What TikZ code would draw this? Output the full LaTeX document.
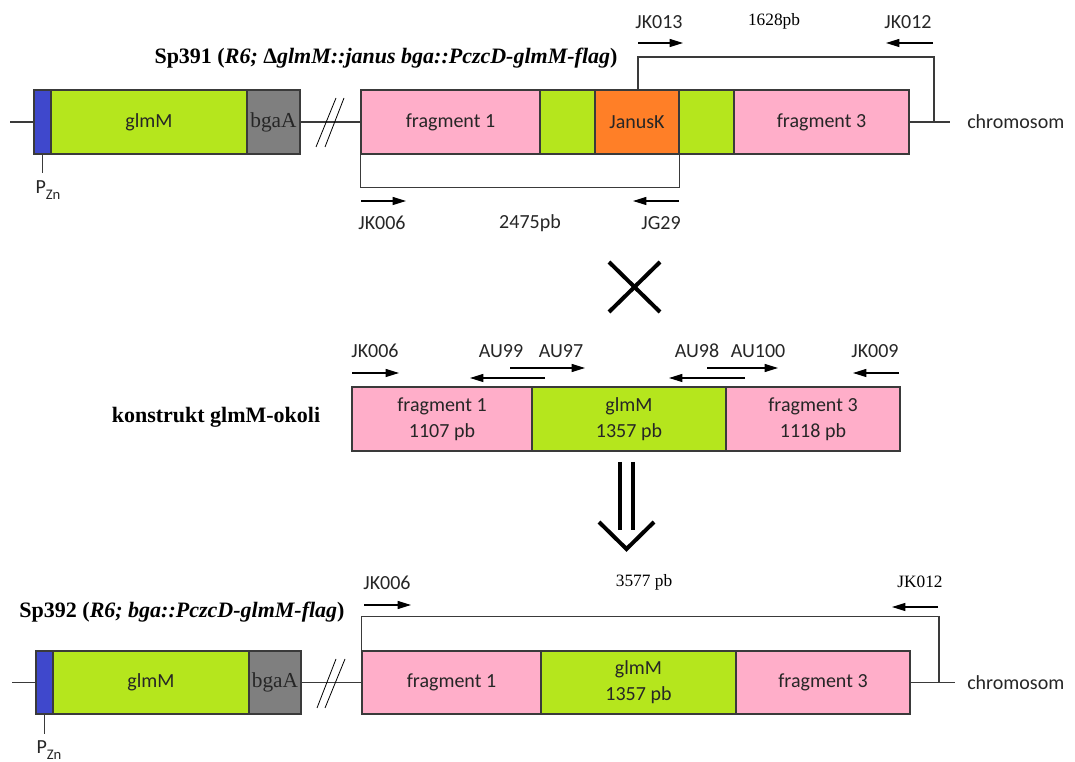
\documentclass[tikz,border=0pt]{standalone}
\usepackage{fontspec}
\setmainfont{Liberation Serif}
\newfontfamily\calfont{Carlito}
\usetikzlibrary{arrows.meta}
\definecolor{pzn}{HTML}{3F48CC}
\definecolor{lime}{HTML}{B5E61D}
\definecolor{pinkf}{HTML}{FFAEC9}
\definecolor{grayb}{HTML}{7F7F7F}
\definecolor{orng}{HTML}{FF7F27}
\definecolor{edge}{HTML}{3A3A3A}
\begin{document}
\begin{tikzpicture}[x=0.75pt,y=-0.75pt,
 box/.style={draw=edge, line width=0.9pt, inner sep=0pt, minimum height=48pt, font=\calfont\fontsize{15}{19.5}\selectfont, align=center, text=black!85},
 boxb/.style={box, minimum height=47.25pt},
 serbox/.style={font=\fontsize{16}{18}\selectfont},
 lab/.style={font=\calfont\fontsize{15}{18}\selectfont, inner sep=0pt, text=black!85},
 serlab/.style={font=\fontsize{13}{15}\selectfont, inner sep=0pt},
 title/.style={font=\bfseries\fontsize{16.5}{18}\selectfont, inner sep=0pt},
 conn/.style={draw=edge, line width=0.9pt},
 primer/.style={line width=0.9pt, -{Triangle[length=10pt,width=6pt]}},
 slash/.style={line width=0.6pt},
 bigline/.style={line width=3pt}
]
\useasboundingbox (0,0) rectangle (1075,762);

% ---------------- Row 1 ----------------
\node[title] (t1) at (386,58) {Sp391 (\textit{R6; \textup{Δ}glmM::janus bga::PczcD-glmM-flag})};
\node[box, fill=pzn, minimum width=12.75pt] (p1) at (42.5,122) {};
\node[box, fill=lime, minimum width=147pt] (g1) at (149,122) {glmM};
\node[box, serbox, fill=grayb, minimum width=39.75pt] (b1) at (273.5,122) {bgaA};
\node[box, fill=pinkf, minimum width=134.25pt] (f1) at (450.5,122) {fragment 1};
\node[box, fill=lime, minimum width=41.25pt] (m1) at (567.5,122) {};
\node[box, fill=orng, minimum width=63pt] (j1) at (637,122) {JanusK};
\node[box, fill=lime, minimum width=41.25pt] (n1) at (706.5,122) {};
\node[box, fill=pinkf, minimum width=131.25pt] (h1) at (821.5,122) {fragment 3};
\coordinate (L1) at (10,122);
\coordinate (R1) at (950,122);
\coordinate (Rb1) at (934,122);
\coordinate (u1) at (638,90);
\node[lab, anchor=west] (chr1) at (967,122) {chromosom};
\draw[conn] (L1) -- (p1.west);
\draw[conn] (b1.east) -- (f1.west);
\draw[conn] (h1.east) -- (R1);
\draw[slash] (316,147) -- (336,98);
\draw[slash] (325,147) -- (344,98);
\draw[conn] (u1) -- ++(0,-33) -| (Rb1);
\draw[conn] (f1.south west) -- ++(0,33) -| (j1.south east);
\draw[conn] (p1.south) -- ++(0,18);
\node[lab] (pz1) at (48,190) {P\raisebox{-4pt}{\fontsize{11}{11}\selectfont Zn}};

\node[lab] (k13) at (659,22) {JK013};
\draw[primer] (638,43) -- (683,43);
\node[serlab] (s1628) at (774,21) {1628pb};
\node[lab] (k12) at (908,22) {JK012};
\draw[primer] (933,43) -- (886,43);
\node[lab] (k06a) at (382,223) {JK006};
\draw[primer] (361,201) -- (406,201);
\node[lab] (s2475) at (530,223) {2475pb};
\node[lab] (g29) at (661,223) {JG29};
\draw[primer] (679,201) -- (633,201);

% X
\draw[bigline] (609,262) -- (660,312);
\draw[bigline] (660,262) -- (609,312);

% ---------------- Row 2 ----------------
\node[title, font=\bfseries\fontsize{16.5}{18}\selectfont] (kon) at (216,417) {konstrukt glmM-okoli};
\node[box, fill=pinkf, minimum width=135pt] (f2) at (442,419) {fragment 1\\1107 pb};
\node[box, fill=lime, minimum width=145.5pt] (g2) at (629,419) {glmM\\1357 pb};
\node[box, fill=pinkf, minimum width=130.5pt] (h2) at (813,419) {fragment 3\\1118 pb};

\node[lab] (k06b) at (375,351) {JK006};
\draw[primer] (352,373) -- (399,373);
\node[lab] (a99) at (501,351) {AU99};
\draw[primer] (545,378) -- (470,378);
\node[lab] (a97) at (561,351) {AU97};
\draw[primer] (510,368) -- (585,368);
\node[lab] (a98) at (697,351) {AU98};
\draw[primer] (745,378) -- (669,378);
\node[lab] (a100) at (758,351) {AU100};
\draw[primer] (707,368) -- (778,368);
\node[lab] (k09) at (875,351) {JK009};
\draw[primer] (899,373) -- (853,373);

% down arrow
\draw[bigline] (620,462) -- (620,530);
\draw[bigline] (633,462) -- (633,530);
\draw[bigline] (599,522) -- (626.5,549) -- (654,522);

% ---------------- Row 3 ----------------
\node[title] (t3) at (182,612) {Sp392 (\textit{R6; bga::PczcD-glmM-flag})};
\node[boxb, fill=pzn, minimum width=12.75pt] (p3) at (44.5,682.5) {};
\node[boxb, fill=lime, minimum width=147pt] (g3) at (151,682.5) {glmM};
\node[boxb, serbox, fill=grayb, minimum width=39pt] (b3) at (275,682.5) {bgaA};
\node[boxb, fill=pinkf, minimum width=134.25pt] (f3) at (451.5,682.5) {fragment 1};
\node[boxb, fill=lime, minimum width=146.25pt] (m3) at (638.5,682.5) {glmM\\1357 pb};
\node[boxb, fill=pinkf, minimum width=130.5pt] (h3) at (823,682.5) {fragment 3};
\coordinate (L3) at (12,682.5);
\coordinate (R3) at (955,682.5);
\coordinate (Rb3) at (939,682.5);
\node[lab, anchor=west] (chr3) at (967,683) {chromosom};
\draw[conn] (L3) -- (p3.west);
\draw[conn] (b3.east) -- (f3.west);
\draw[conn] (h3.east) -- (R3);
\draw[slash] (317,708) -- (336,659);
\draw[slash] (325,708) -- (345,659);
\draw[conn] (f3.north west) -- ++(0,-34) -| (Rb3);
\draw[conn] (p3.south) -- ++(0,19);
\node[lab] (pz3) at (49,750) {P\raisebox{-4pt}{\fontsize{11}{11}\selectfont Zn}};

\node[lab] (k06c) at (387,583) {JK006};
\draw[primer] (364,605) -- (411,605);
\node[serlab] (s3577) at (644,582) {3577 pb};
\node[serlab] (k12b) at (920,582) {JK012};
\draw[primer] (938,607) -- (892,607);
\end{tikzpicture}
\end{document}
